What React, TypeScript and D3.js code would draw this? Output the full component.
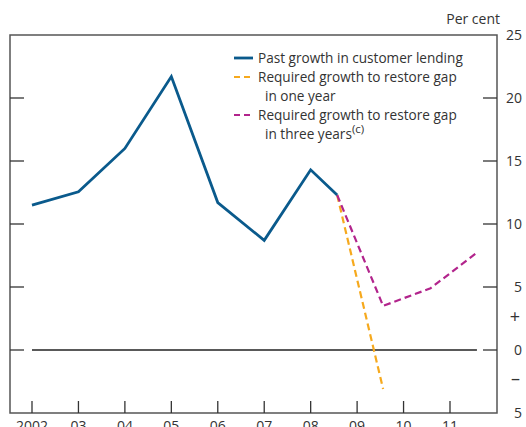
import * as d3 from 'd3'

const years = [2002, 2003, 2004, 2005, 2006, 2007, 2008, 2008.57]
const pastGrowth = [11.5, 12.55, 16.0, 21.7, 11.7, 8.7, 14.3, 12.3]

const oneYearX = [2008.57, 2009.56]
const oneYear = [12.3, -3.1]

const threeYearX = [2008.57, 2009.56, 2010.58, 2011.57]
const threeYears = [12.3, 3.5, 4.9, 7.7]

const xTicks = [2002, 2003, 2004, 2005, 2006, 2007, 2008, 2009, 2010, 2011]
const xTickLabels = ['2002', '03', '04', '05', '06', '07', '08', '09', '10', '11']
const yTicks = [20, 15, 10, 5, 0]
const yLabels = ['25', '20', '15', '10', '5', '0', '5']
const yLabelValues = [25, 20, 15, 10, 5, 0, -5]

const legendItems = [
  { lines: ['Past growth in customer lending'], color: '#0a5a8c', dash: '' },
  { lines: ['Required growth to restore gap', 'in one year'], color: '#f6a91d', dash: '6,4' },
  { lines: ['Required growth to restore gap', 'in three years'], color: '#b2248c', dash: '6,4' },
]

const W = 526
const H = 427
const left = 10
const right = 497
const top = 35
const bottom = 413
const font = '"Open Sans", "Noto Sans", sans-serif'
const textColor = '#333'

export default function App() {
  const x = d3.scaleLinear().domain([2002, 2011]).range([32, 450])
  const y = d3.scaleLinear().domain([-5, 25]).range([bottom, top])

  const line = d3
    .line<[number, number]>()
    .x((d) => x(d[0]))
    .y((d) => y(d[1]))

  const pastPath = line(years.map((v, i) => [v, pastGrowth[i]]))
  const onePath = line(oneYearX.map((v, i) => [v, oneYear[i]]))
  const threePath = line(threeYearX.map((v, i) => [v, threeYears[i]]))

  let row = 0
  return (
    <svg
      width={W}
      height={H}
      style={{ position: 'absolute', left: 0, top: 0, background: '#fff' }}
      fontFamily={font}
    >
      {/* frame */}
      <rect x={left} y={top} width={right - left} height={bottom - top} fill="none" stroke="#555" strokeWidth={1.5} />

      {/* y ticks, both sides */}
      {yTicks.map((t) => (
        <g key={t}>
          <line x1={left} x2={left + 14} y1={y(t)} y2={y(t)} stroke="#333" strokeWidth={1.3} />
          <line x1={right - 14} x2={right} y1={y(t)} y2={y(t)} stroke="#333" strokeWidth={1.3} />
        </g>
      ))}

      {/* zero line */}
      <line x1={x(2002)} x2={x(2011.58)} y1={y(0)} y2={y(0)} stroke="#222" strokeWidth={1.3} />

      {/* x ticks */}
      {xTicks.map((t, i) => (
        <g key={t}>
          <line x1={x(t)} x2={x(t)} y1={bottom} y2={bottom - 12} stroke="#333" strokeWidth={1.3} />
          <text x={x(t)} y={431} textAnchor="middle" fontSize={14} fill={textColor}>
            {xTickLabels[i]}
          </text>
        </g>
      ))}

      {/* right labels */}
      {yLabelValues.map((v, i) => (
        <text key={i} x={522} y={y(v) + 5} textAnchor="end" fontSize={14} fill={textColor}>
          {yLabels[i]}
        </text>
      ))}
      <text x={520} y={y(2.6) + 6} textAnchor="end" fontSize={18} fill={textColor}>+</text>
      <text x={520} y={y(-2.3) + 6} textAnchor="end" fontSize={18} fill={textColor}>–</text>
      <text x={500} y={24} textAnchor="end" fontSize={14} fill={textColor}>Per cent</text>

      {/* series */}
      <path d={onePath || ''} fill="none" stroke="#f6a91d" strokeWidth={2.2} strokeDasharray="7,4" />
      <path d={threePath || ''} fill="none" stroke="#b2248c" strokeWidth={2.2} strokeDasharray="7,4" />
      <path d={pastPath || ''} fill="none" stroke="#0a5a8c" strokeWidth={2.8} strokeLinejoin="miter" />

      {/* legend */}
      {legendItems.map((item, i) => {
        const y0 = 58 + row * 19
        row += item.lines.length
        return (
          <g key={i}>
            <line
              x1={234}
              x2={253}
              y1={y0}
              y2={y0}
              stroke={item.color}
              strokeWidth={item.dash ? 2.2 : 2.8}
              strokeDasharray={item.dash}
            />
            {item.lines.map((l, j) => (
              <text key={j} x={j === 0 ? 258 : 265} y={y0 + 5 + j * 19} fontSize={13.6} fill={textColor}>
                {l}
                {i === 2 && j === 1 ? (
                  <tspan fontSize={11.5} dy={-6}>(c)</tspan>
                ) : null}
              </text>
            ))}
          </g>
        )
      })}
    </svg>
  )
}
